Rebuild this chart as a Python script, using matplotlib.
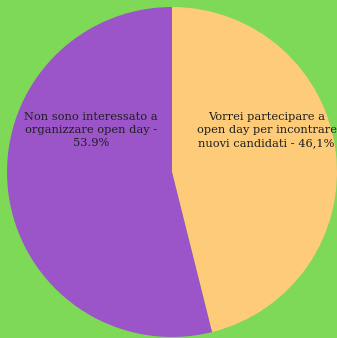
import matplotlib.pyplot as plt

labels = [
    "Vorrei partecipare a\nopen day per incontrare\nnuovi candidati - 46,1%",
    "Non sono interessato a\norganizzare open day -\n53.9%",
]
values = [46.1, 53.9]
colors = ["#fecb78", "#9b55c8"]
bg = "#7ed957"

W, H = 337, 338
cx, cy, r = 172, 172, 165

fig = plt.figure(figsize=(W / 100, H / 100), dpi=100, facecolor=bg)
ax = fig.add_axes([0, 0, 1, 1])
ax.set_facecolor(bg)

ax.pie(values, colors=colors, startangle=90, counterclock=False,
       wedgeprops=dict(linewidth=0))

# label positions in pie units (radius = 1)
label_xy = [(0.573, 0.255), (-0.491, 0.255)]
for text, (x, y) in zip(labels, label_xy):
    ax.text(x, y, text, ha="center", va="center", fontsize=8.2,
            family="DejaVu Serif", color="#1e1e1e", linespacing=1.38)

ax.set_aspect("auto")
ax.set_xlim(-cx / r, (W - cx) / r)
ax.set_ylim(-(H - cy) / r, cy / r)
ax.axis("off")

fig.savefig("out.png", dpi=100, facecolor=bg)
